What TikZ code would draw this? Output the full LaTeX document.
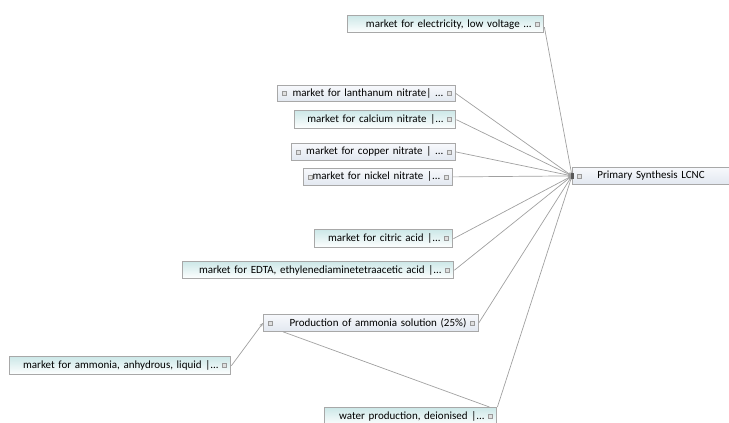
\documentclass[tikz,border=0pt]{standalone}
\usepackage{fontspec}
\setmainfont{Carlito}
\usetikzlibrary{arrows.meta}
\definecolor{tealtop}{HTML}{CDE8E8}
\definecolor{lighttop}{HTML}{F7F9FC}
\definecolor{lightbot}{HTML}{E2E8F0}
\definecolor{boxborder}{HTML}{A8A8A8}
\definecolor{linec}{HTML}{A0A0A0}
\tikzset{
  basebox/.style={draw=boxborder, line width=0.8pt, inner xsep=8pt, inner ysep=0pt,
    anchor=north west, align=right, font=\fontsize{11}{12}\selectfont, text=black},
  tealbox/.style={basebox, top color=tealtop, bottom color=white, draw=boxborder, line width=1.4pt},
  lightbox/.style={basebox, top color=lighttop, bottom color=lightbot},
  conn/.style={draw=linec, line width=0.7pt, -{Stealth[length=4pt,width=3pt]}},
  plainconn/.style={draw=linec, line width=0.7pt},
  sqs/.style={draw=gray!80, fill=gray!25, line width=0.6pt}
}
\newcommand\mybox[7]{%
  \pgfmathsetmacro\bw{#4-#2}\pgfmathsetmacro\bh{#5-#3}\pgfmathsetmacro\tw{#4-#2-16}%
  \node[#6, minimum width=\bw pt, minimum height=\bh pt, text width=\tw pt] (#1) at (#2,#3) {#7\hspace*{4pt}};}
\begin{document}
\begin{tikzpicture}[x=1pt,y=-1pt]
\useasboundingbox (0,0) rectangle (729,423);
\mybox{elec}{347}{15}{543}{32}{tealbox}{market for electricity, low voltage ...}
\mybox{lan}{277}{85}{455}{101}{lightbox}{market for lanthanum nitrate| ...}
\mybox{cal}{294}{110}{455}{128}{tealbox}{market for calcium nitrate |...}
\mybox{cop}{291}{143}{455}{160}{lightbox}{market for copper nitrate | ...}
\mybox{nic}{303}{168}{452}{185}{lightbox}{market for nickel nitrate |...}
\mybox{prim}{572}{167}{732}{184}{lightbox}{\makebox[\linewidth][l]{\hspace{17pt}Primary Synthesis LCNC}}
\mybox{cit}{314}{229}{452}{247}{tealbox}{market for citric acid |...}
\mybox{edta}{182}{261}{453}{278}{tealbox}{market for EDTA, ethylenediaminetetraacetic acid |...}
\mybox{prod}{263}{314}{478}{331}{lightbox}{Production of ammonia solution (25\%)}
\mybox{anh}{9}{356}{230}{374}{tealbox}{market for ammonia, anhydrous, liquid |...}
\mybox{wat}{324}{407}{496}{425}{tealbox}{water production, deionised |...}
% small squares (right side)
\foreach \n in {elec,lan,cal,cop,nic,cit,edta,prod,anh,wat}{
  \draw[sqs] ([xshift=-9pt,yshift=-2pt]\n.east) rectangle ++(4pt,4pt);}
% small squares (left side)
\foreach \n in {lan,cop,nic,prod,prim}{
  \draw[sqs] ([xshift=5pt,yshift=-2pt]\n.west) rectangle ++(4pt,4pt);}
% connectors
\foreach \n in {lan,cal,cop,nic,cit,edta,prod}{
  \draw[conn] (\n.east) -- (prim.west);}
\draw[conn] ([yshift=-3pt]elec.east) -- (prim.west);
\draw[conn] (wat.north east) -- (prim.west);
\draw[conn] (anh.east) -- (prod.west);
\draw[plainconn] ([xshift=20pt]prod.south west) -- ([xshift=-8pt]wat.north east);
\fill[gray!70!black] ([xshift=-1pt,yshift=-3pt]prim.west) rectangle ++(3pt,6pt);
\end{tikzpicture}
\end{document}
